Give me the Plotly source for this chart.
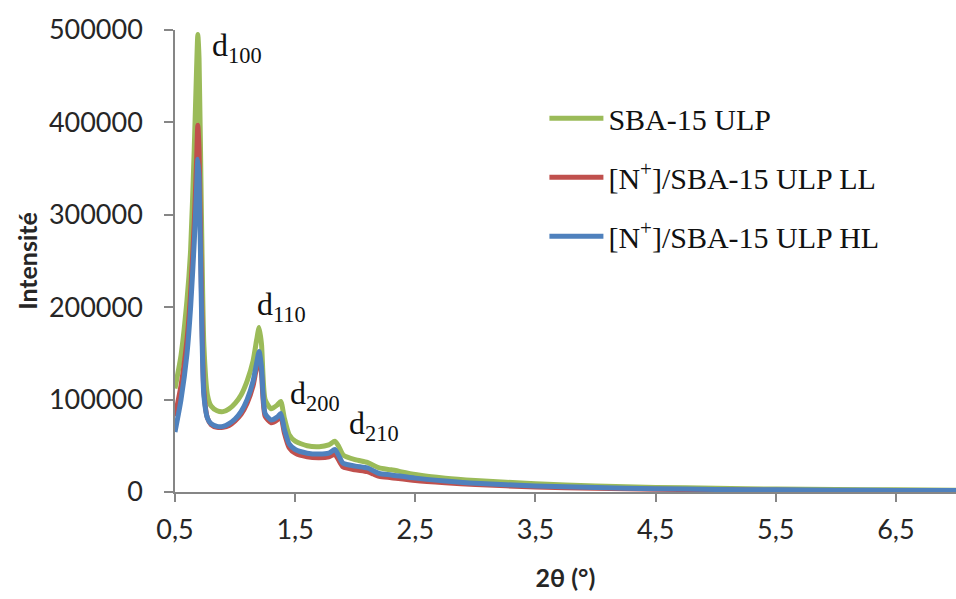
import plotly.graph_objects as go

# 2theta values (degrees)
two_theta = [0.5, 0.55, 0.6, 0.63, 0.66, 0.68, 0.69, 0.70, 0.72, 0.74, 0.77, 0.80, 0.85, 0.90,
             0.95, 1.0, 1.05, 1.1, 1.15, 1.18, 1.2, 1.22, 1.25, 1.3, 1.35, 1.38, 1.41, 1.45,
             1.5, 1.6, 1.7, 1.78, 1.83, 1.86, 1.9, 2.0, 2.1, 2.15, 2.2, 2.3, 2.5, 2.75, 3.0,
             3.5, 4.0, 4.5, 5.0, 5.5, 6.0, 6.5, 7.0]

sba15_ulp = [112000, 148000, 208000, 262000, 370000, 460000, 495000, 470000, 300000, 160000,
             105000, 93000, 88000, 87000, 90000, 96000, 105000, 120000, 142000, 165000, 178000,
             160000, 100000, 90000, 94000, 98000, 80000, 62000, 55000, 50000, 49000, 51000,
             55000, 50000, 40000, 35000, 32000, 29000, 26000, 24000, 19000, 15000, 12500,
             9000, 6500, 5000, 4000, 3200, 2700, 2300, 2000]

n_sba15_ll = [82000, 115000, 165000, 215000, 290000, 360000, 397000, 370000, 220000, 110000,
              80000, 73000, 70000, 70000, 72000, 77000, 84000, 96000, 115000, 136000, 146000,
              128000, 82000, 75000, 78000, 82000, 64000, 48000, 42000, 38000, 37000, 38000,
              41000, 35000, 27000, 24000, 22000, 19500, 17000, 15500, 12500, 10000, 8000,
              5500, 4000, 3000, 2300, 1900, 1600, 1400, 1200]

n_sba15_hl = [65000, 100000, 150000, 200000, 270000, 330000, 360000, 340000, 200000, 105000,
              80000, 74000, 71000, 71000, 74000, 79000, 87000, 100000, 120000, 140000, 152000,
              135000, 85000, 78000, 81000, 85000, 68000, 52000, 46000, 42000, 41000, 42000,
              46000, 40000, 31000, 28000, 26000, 23000, 20000, 18500, 15000, 12000, 9500,
              6500, 4800, 3600, 2800, 2300, 2000, 1700, 1500]

series_names = ["SBA-15 ULP", "[N<sup>+</sup>]/SBA-15 ULP LL", "[N<sup>+</sup>]/SBA-15 ULP HL"]
series_colors = ["#9BBB59", "#C0504D", "#4F81BD"]

x_ticks = [0.5, 1.5, 2.5, 3.5, 4.5, 5.5, 6.5]
x_tick_labels = ["0,5", "1,5", "2,5", "3,5", "4,5", "5,5", "6,5"]
y_ticks = [0, 100000, 200000, 300000, 400000, 500000]
y_tick_labels = ["0", "100000", "200000", "300000", "400000", "500000"]

peak_labels = ["d<sub>100</sub>", "d<sub>110</sub>", "d<sub>200</sub>", "d<sub>210</sub>"]
peak_x = [0.79, 1.167, 1.44, 1.933]
peak_y = [481000, 201000, 104000, 72500]

fig = go.Figure()
for name, ys, col in zip(series_names, [sba15_ulp, n_sba15_ll, n_sba15_hl], series_colors):
    fig.add_trace(go.Scatter(x=two_theta, y=ys, mode="lines", name=name, legendgroup=name,
                             line=dict(color=col, width=5, shape="spline", smoothing=0.6)))

for t, px, py in zip(peak_labels, peak_x, peak_y):
    fig.add_annotation(x=px, y=py, text=t, showarrow=False, xanchor="left", yanchor="middle",
                       font=dict(family="Liberation Serif", size=32, color="#111"))

fig.update_layout(
    width=956, height=599,
    margin=dict(l=175, r=0, t=30, b=107),
    plot_bgcolor="white", paper_bgcolor="white",
    font=dict(family="Lato", color="#262626"),
    showlegend=True,
    legend=dict(x=0.473, y=0.865, xanchor="left", yanchor="top",
                font=dict(family="Liberation Serif", size=30, color="#111"),
                itemwidth=54,
                tracegroupgap=17, bgcolor="rgba(0,0,0,0)"),
    xaxis=dict(range=[0.5, 7.0], tickvals=x_ticks, ticktext=x_tick_labels,
               showgrid=False, zeroline=False, showline=True, linecolor="#868686", linewidth=1.5,
               ticks="outside", ticklen=8, tickcolor="#868686", tickwidth=1.5,
               tickfont=dict(size=27, family="Lato", color="#262626"),
               ticklabelstandoff=5,
               title=dict(text="<b>2θ (°)</b>", font=dict(size=25, family="Lato", color="#262626"),
                          standoff=25)),
    yaxis=dict(range=[0, 500000], tickvals=y_ticks, ticktext=y_tick_labels,
               showgrid=False, zeroline=False, showline=True, linecolor="#868686", linewidth=1.5,
               ticks="outside", ticklen=9, tickcolor="#868686", tickwidth=1.5,
               tickfont=dict(size=27, family="Lato", color="#262626"),
               ticklabelstandoff=16,
               title=dict(text="<b>Intensité</b>", font=dict(size=25, family="Lato", color="#262626"),
                          standoff=4)),
)

fig.write_html("out.html", config={"displayModeBar": False},
               post_script="document.body.style.margin='0';document.body.style.overflow='hidden';")
